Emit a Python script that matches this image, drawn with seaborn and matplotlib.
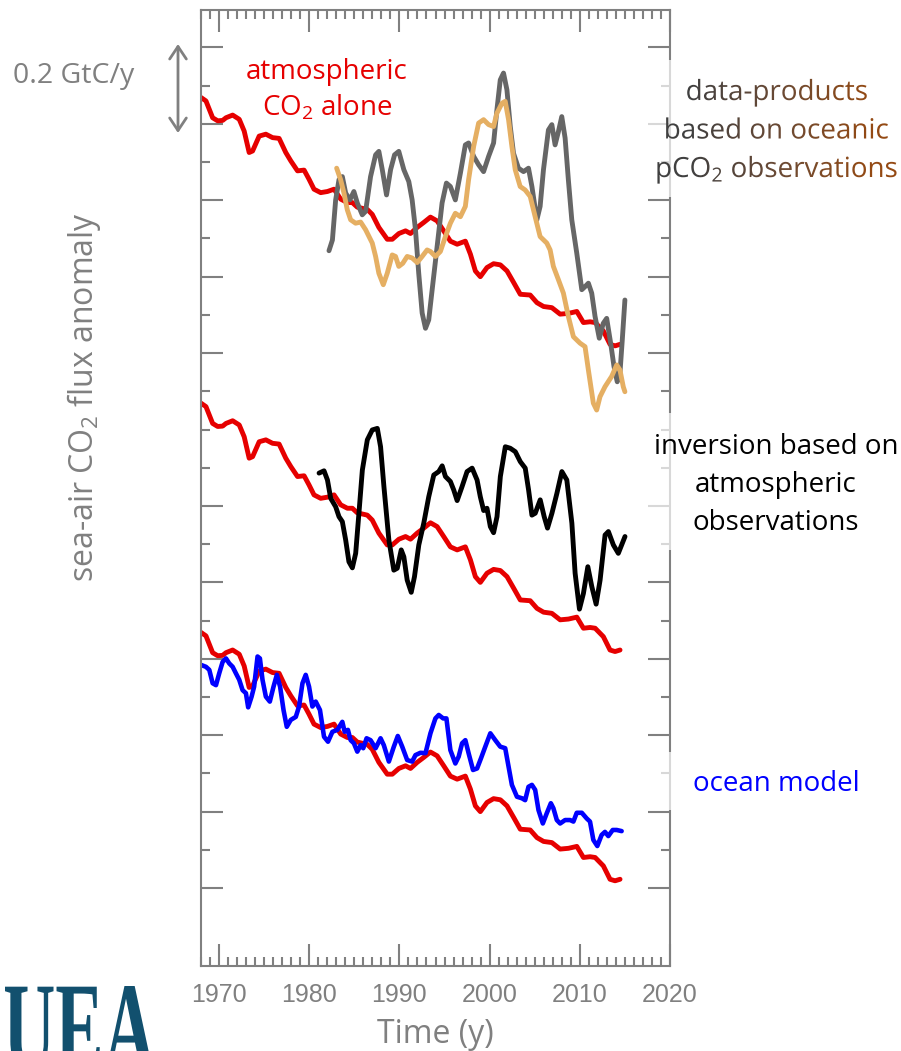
import numpy as np
import matplotlib
matplotlib.use("Agg")
import matplotlib.pyplot as plt
import seaborn as sns
from matplotlib.ticker import MultipleLocator
from matplotlib.textpath import TextPath
from matplotlib.patches import PathPatch, Rectangle
from matplotlib.font_manager import FontProperties
from matplotlib.path import Path
from matplotlib.transforms import Affine2D
from matplotlib.colors import LinearSegmentedColormap

# atmospheric CO2 alone (GtC/y, drawn at the level of the middle panel)
atm_years = [1968.00, 1968.55, 1969.29, 1969.85, 1970.40, 1970.77, 1971.51, 1972.24, 1972.79, 1973.34,
             1973.72, 1974.45, 1975.19, 1975.93, 1976.66, 1977.40, 1977.96, 1978.70, 1979.43, 1979.98,
             1980.53, 1981.27, 1982.02, 1982.75, 1983.49, 1984.23, 1984.78, 1985.33, 1986.44, 1986.99,
             1987.72, 1988.65, 1989.21, 1989.94, 1990.68, 1991.23, 1991.97, 1992.70, 1993.44, 1994.18,
             1994.91, 1995.65, 1996.40, 1997.31, 1997.87, 1998.42, 1998.97, 1999.71, 2000.44, 2001.19,
             2001.93, 2002.66, 2003.40, 2004.50, 2005.25, 2005.98, 2006.90, 2007.82, 2008.74, 2009.67,
             2010.40, 2011.14, 2011.70, 2012.61, 2013.35, 2013.91, 2014.46]
atm_flux = [1.269, 1.260, 1.216, 1.208, 1.209, 1.216, 1.223, 1.212, 1.181, 1.125,
            1.129, 1.168, 1.173, 1.164, 1.162, 1.125, 1.103, 1.077, 1.079, 1.055,
            1.029, 1.020, 1.023, 1.029, 1.003, 0.994, 0.994, 0.982, 0.976, 0.963,
            0.929, 0.898, 0.898, 0.913, 0.920, 0.913, 0.929, 0.942, 0.956, 0.946,
            0.920, 0.893, 0.885, 0.893, 0.859, 0.815, 0.800, 0.824, 0.834, 0.831,
            0.815, 0.785, 0.754, 0.752, 0.732, 0.722, 0.719, 0.702, 0.704, 0.709,
            0.680, 0.682, 0.680, 0.658, 0.623, 0.619, 0.623]
panel_shift = [0.8, 0.0, -0.6]  # top, middle, bottom panel

# data-products based on pCO2 observations (top panel)
prod1_years = [1982.19, 1982.57, 1982.93, 1983.30, 1983.67, 1984.04, 1984.51, 1984.95, 1985.33, 1985.88,
               1986.25, 1986.80, 1987.36, 1987.72, 1988.10, 1988.57, 1989.02, 1989.46, 1989.93, 1990.49,
               1991.04, 1991.41, 1991.78, 1992.14, 1992.52, 1992.89, 1993.25, 1993.63, 1994.18, 1994.73,
               1995.21, 1995.65, 1996.20, 1996.76, 1997.31, 1997.67, 1998.23, 1998.78, 1999.33, 1999.89,
               2000.44, 2000.81, 2001.18, 2001.54, 2001.92, 2002.29, 2002.65, 2003.20, 2003.76, 2004.31,
               2004.69, 2005.24, 2005.60, 2005.97, 2006.52, 2006.90, 2007.26, 2007.63, 2008.00, 2008.37,
               2008.73, 2009.11, 2009.66, 2010.22, 2010.58, 2010.95, 2011.32, 2011.69, 2012.16, 2012.60,
               2012.98, 2013.42, 2013.79, 2014.15, 2014.45, 2014.71, 2015.00]
prod1_flux = [1.668, 1.696, 1.801, 1.854, 1.862, 1.819, 1.801, 1.823, 1.793, 1.762,
              1.771, 1.862, 1.919, 1.928, 1.880, 1.814, 1.880, 1.919, 1.928, 1.880,
              1.849, 1.801, 1.723, 1.609, 1.505, 1.465, 1.487, 1.566, 1.679, 1.793,
              1.845, 1.836, 1.801, 1.871, 1.945, 1.950, 1.915, 1.893, 1.875, 1.915,
              1.950, 2.037, 2.115, 2.133, 2.089, 1.993, 1.923, 1.884, 1.875, 1.884,
              1.836, 1.749, 1.784, 1.880, 1.984, 1.998, 1.945, 1.980, 2.019, 1.963,
              1.854, 1.749, 1.662, 1.566, 1.574, 1.583, 1.557, 1.496, 1.439, 1.478,
              1.491, 1.426, 1.365, 1.325, 1.347, 1.435, 1.539]

prod2_years = [1983.04, 1983.48, 1983.85, 1984.22, 1984.59, 1985.14, 1985.70, 1986.25, 1986.99, 1987.36,
               1987.72, 1988.21, 1988.65, 1989.20, 1989.57, 1989.93, 1990.37, 1990.86, 1991.41, 1991.97,
               1992.52, 1993.07, 1993.44, 1993.99, 1994.54, 1995.10, 1995.65, 1996.20, 1996.76, 1997.31,
               1997.67, 1998.23, 1998.78, 1999.33, 1999.89, 2000.44, 2000.81, 2001.37, 2001.73, 2002.10,
               2002.47, 2002.84, 2003.39, 2003.94, 2004.50, 2005.05, 2005.60, 2006.34, 2006.71, 2007.07,
               2007.63, 2008.18, 2008.73, 2009.29, 2010.03, 2010.58, 2010.95, 2011.50, 2011.87, 2012.24,
               2012.79, 2013.53, 2014.09, 2014.45, 2014.82, 2015.00]
prod2_flux = [1.884, 1.854, 1.819, 1.775, 1.749, 1.740, 1.743, 1.723, 1.688, 1.653,
              1.609, 1.579, 1.609, 1.657, 1.653, 1.627, 1.635, 1.653, 1.649, 1.637,
              1.653, 1.670, 1.666, 1.653, 1.666, 1.705, 1.740, 1.766, 1.757, 1.784,
              1.854, 1.941, 2.002, 2.011, 1.998, 1.993, 2.028, 2.054, 2.059, 2.011,
              1.941, 1.880, 1.836, 1.827, 1.810, 1.757, 1.705, 1.688, 1.670, 1.627,
              1.592, 1.557, 1.496, 1.443, 1.426, 1.417, 1.356, 1.269, 1.251, 1.286,
              1.312, 1.339, 1.369, 1.356, 1.312, 1.299]

# inversion based on atmospheric observations (middle panel)
inv_years = [1981.09, 1981.64, 1982.02, 1982.38, 1982.93, 1983.30, 1983.67, 1984.04, 1984.40, 1984.78,
             1985.15, 1985.51, 1985.89, 1986.44, 1986.99, 1987.55, 1987.91, 1988.28, 1988.83, 1989.38,
             1989.76, 1990.20, 1990.49, 1990.86, 1991.31, 1991.67, 1992.15, 1992.70, 1993.25, 1993.81,
             1994.36, 1994.74, 1995.10, 1995.65, 1996.02, 1996.40, 1996.95, 1997.50, 1998.06, 1998.61,
             1998.97, 1999.34, 1999.71, 2000.08, 2000.44, 2000.82, 2001.19, 2001.74, 2002.29, 2002.85,
             2003.40, 2003.95, 2004.32, 2004.69, 2005.06, 2005.61, 2006.05, 2006.42, 2006.91, 2007.46,
             2008.01, 2008.56, 2009.12, 2009.48, 2009.96, 2010.40, 2010.89, 2011.33, 2011.81, 2012.25,
             2012.80, 2013.17, 2013.72, 2014.27, 2015.01]
inv_flux = [1.086, 1.092, 1.068, 1.020, 0.998, 0.972, 0.959, 0.911, 0.854, 0.838,
            0.876, 0.981, 1.094, 1.173, 1.199, 1.203, 1.155, 1.051, 0.911, 0.832,
            0.837, 0.885, 0.867, 0.806, 0.774, 0.815, 0.898, 0.955, 1.024, 1.081,
            1.090, 1.105, 1.077, 1.064, 1.042, 1.014, 1.051, 1.090, 1.099, 1.068,
            1.024, 0.988, 0.994, 0.946, 0.930, 0.972, 1.077, 1.155, 1.151, 1.142,
            1.116, 1.099, 1.042, 0.976, 0.981, 1.016, 0.972, 0.942, 0.981, 1.033,
            1.090, 1.068, 0.955, 0.824, 0.730, 0.771, 0.841, 0.789, 0.743, 0.806,
            0.924, 0.933, 0.898, 0.876, 0.920]

# ocean model (bottom panel)
ocean_years = [1968.00, 1968.55, 1968.92, 1969.29, 1969.66, 1970.02, 1970.40, 1970.77, 1971.13, 1971.51,
               1971.87, 1972.24, 1972.61, 1972.98, 1973.23, 1973.61, 1973.89, 1974.27, 1974.53, 1974.82,
               1975.19, 1975.63, 1976.04, 1976.41, 1976.77, 1977.15, 1977.51, 1977.95, 1978.51, 1978.87,
               1979.25, 1979.61, 1979.98, 1980.35, 1980.72, 1981.19, 1981.64, 1982.08, 1982.57, 1983.12,
               1983.67, 1983.93, 1984.29, 1984.59, 1984.95, 1985.33, 1985.70, 1985.99, 1986.36, 1986.80,
               1987.36, 1987.91, 1988.27, 1988.83, 1989.38, 1989.82, 1990.31, 1990.86, 1991.41, 1991.78,
               1992.33, 1992.89, 1993.44, 1993.99, 1994.36, 1994.85, 1995.21, 1995.65, 1996.20, 1996.57,
               1996.95, 1997.31, 1997.67, 1998.16, 1998.61, 1999.05, 1999.52, 2000.08, 2000.63, 2001.18,
               2001.73, 2002.10, 2002.47, 2003.03, 2003.58, 2003.94, 2004.31, 2004.69, 2005.05, 2005.42,
               2005.90, 2006.34, 2006.79, 2007.07, 2007.45, 2007.82, 2008.37, 2008.92, 2009.29, 2009.66,
               2010.22, 2010.77, 2011.13, 2011.50, 2011.94, 2012.42, 2012.79, 2013.16, 2013.65, 2014.09,
               2014.64]
ocean_flux = [0.584, 0.579, 0.571, 0.536, 0.531, 0.562, 0.592, 0.601, 0.588, 0.579,
              0.562, 0.545, 0.518, 0.510, 0.473, 0.501, 0.527, 0.606, 0.601, 0.545,
              0.501, 0.488, 0.527, 0.558, 0.527, 0.466, 0.422, 0.440, 0.448, 0.475,
              0.536, 0.558, 0.527, 0.475, 0.488, 0.466, 0.396, 0.383, 0.409, 0.414,
              0.435, 0.409, 0.414, 0.387, 0.379, 0.357, 0.374, 0.366, 0.392, 0.387,
              0.366, 0.392, 0.374, 0.331, 0.370, 0.398, 0.370, 0.335, 0.331, 0.348,
              0.354, 0.353, 0.405, 0.444, 0.453, 0.444, 0.444, 0.361, 0.326, 0.344,
              0.379, 0.387, 0.353, 0.309, 0.313, 0.340, 0.370, 0.405, 0.387, 0.370,
              0.366, 0.318, 0.270, 0.239, 0.235, 0.230, 0.265, 0.270, 0.257, 0.204,
              0.169, 0.196, 0.222, 0.209, 0.178, 0.169, 0.178, 0.178, 0.174, 0.197,
              0.197, 0.182, 0.174, 0.126, 0.110, 0.139, 0.147, 0.136, 0.152, 0.152,
              0.149]

year_ticks = [1970, 1980, 1990, 2000, 2010, 2020]
y_major = [0.0, 0.2, 0.4, 0.6, 0.8, 1.0, 1.4, 1.6, 1.8, 2.0, 2.2]
y_minor = [0.1, 0.3, 0.5, 0.7, 0.9, 1.1, 1.2, 1.3, 1.5, 1.7, 1.9, 2.1]

RED = "#e60000"
GREY_LINE = "#666666"
TAN = "#e5af63"
AXIS = "#808080"

sns.set_style("white")
plt.rcParams["font.family"] = ["Open Sans", "DejaVu Sans"]
plt.rcParams["mathtext.fontset"] = "custom"
plt.rcParams["mathtext.rm"] = "Open Sans"

W, H = 901, 1051
fig = plt.figure(figsize=(W / 100, H / 100), dpi=100)
ax = fig.add_axes([201 / W, 1 - 966 / H, (670 - 201) / W, (966 - 10) / H])

line_kw = dict(solid_joinstyle="round", solid_capstyle="round", legend=False)
for shift in panel_shift:
    sns.lineplot(x=atm_years, y=[v + shift for v in atm_flux], color=RED, linewidth=3.5, ax=ax, **line_kw)
sns.lineplot(x=prod1_years, y=prod1_flux, color=GREY_LINE, linewidth=3.5, ax=ax, **line_kw)
sns.lineplot(x=prod2_years, y=prod2_flux, color=TAN, linewidth=3.5, ax=ax, **line_kw)
sns.lineplot(x=inv_years, y=inv_flux, color="black", linewidth=3.5, ax=ax, **line_kw)
sns.lineplot(x=ocean_years, y=ocean_flux, color="#0000ff", linewidth=3.3, ax=ax, **line_kw)

ax.set_xlim(1968, 2020)
ax.set_ylim(-0.204, 2.298)
ax.set_xticks(year_ticks)
ax.set_xticklabels([str(y) for y in year_ticks])
ax.xaxis.set_minor_locator(MultipleLocator(1))
ax.set_yticks(y_major)
ax.set_yticks(y_minor, minor=True)
ax.set_yticklabels([])
ax.set_ylabel("")
ax.tick_params(which="both", direction="in", top=True, right=True, left=True, bottom=True,
               color=AXIS, width=1.5, labelleft=False)
ax.tick_params(which="major", length=16)
ax.tick_params(which="minor", length=6.5)
ax.tick_params(axis="x", which="major", labelsize=18, labelcolor=AXIS, pad=12)
for lbl in ax.get_xticklabels():
    lbl.set_fontfamily("Liberation Sans")
for sp in ax.spines.values():
    sp.set_color(AXIS)
    sp.set_linewidth(1.5)
ax.set_xlabel("Time (y)", fontsize=23, color=AXIS, labelpad=8)

# overlay in pixel coordinates for annotations
ov = fig.add_axes([0, 0, 1, 1])
ov.set_xlim(0, W)
ov.set_ylim(H, 0)
ov.axis("off")

# translucent boxes behind the right-hand labels
for y0, y1 in [(60, 197), (413, 550), (752, 810)]:
    ov.add_patch(Rectangle((645, y0), 260, y1 - y0, facecolor="white", alpha=0.7,
                           edgecolor="none", zorder=1))

ov.annotate("", xy=(178, 44), xytext=(178, 133),
            arrowprops=dict(arrowstyle="<->,head_length=0.45,head_width=0.3", color=AXIS, lw=2,
                            mutation_scale=20, shrinkA=0, shrinkB=0))
ov.text(13, 83, "0.2 GtC/y", fontsize=20.5, color=AXIS, ha="left", va="baseline")

ov.text(327, 79, "atmospheric", fontsize=20, color=RED, ha="center", va="baseline", zorder=3)
ov.text(327, 115, r"CO$_\mathrm{2}$ alone", fontsize=20, color=RED, ha="center", va="baseline", zorder=3)

for s, yb in [("inversion based on", 454), ("atmospheric", 492), ("observations", 530)]:
    ov.text(776, yb, s, fontsize=20, color="black", ha="center", va="baseline", zorder=3)
ov.text(776, 791, "ocean model", fontsize=20, color="#0000ff", ha="center", va="baseline", zorder=3)

ov.text(84, 397, r"sea-air CO$_\mathrm{2}$ flux anomaly", fontsize=23, color=AXIS,
        rotation=90, ha="center", va="center")

# grey-to-brown gradient label for the data-products
fp = FontProperties(family="Open Sans")
paths = []
for s, yb in [("data-products", 100), ("based on oceanic", 138.5), (r"pCO$_\mathrm{2}$ observations", 177)]:
    tp = TextPath((0, 0), s, size=27.8, prop=fp)
    ext = tp.get_extents()
    tr = Affine2D().scale(1, -1).translate(777 - ext.x0 - ext.width / 2, yb)
    paths.append(tr.transform_path(tp))
label_patch = PathPatch(Path.make_compound_path(*paths), facecolor="none", edgecolor="none")
ov.add_patch(label_patch)
xs = np.linspace(640, 905, 512)
ramp = np.clip((xs - 690) / (870 - 690), 0, 1)[None, :]
cmap = LinearSegmentedColormap.from_list("prod", ["#404040", "#6b4a35", "#944a14"])
im = ov.imshow(ramp, cmap=cmap, extent=(640, 905, 190, 70), aspect="auto", zorder=3)
im.set_clip_path(label_patch)

# UEA logo
logo = TextPath((0, 0), "UEA", size=128, prop=FontProperties(family="Liberation Serif", weight="bold"))
le = logo.get_extents()
ltr = Affine2D().translate(-le.x0, -le.y1).scale(150 / le.width, -1).translate(5, 986)
ov.add_patch(PathPatch(ltr.transform_path(logo), facecolor="#12506e", edgecolor="none"))

ov.set_xlim(0, W)
ov.set_ylim(H, 0)

fig.savefig("out.png", dpi=100)
